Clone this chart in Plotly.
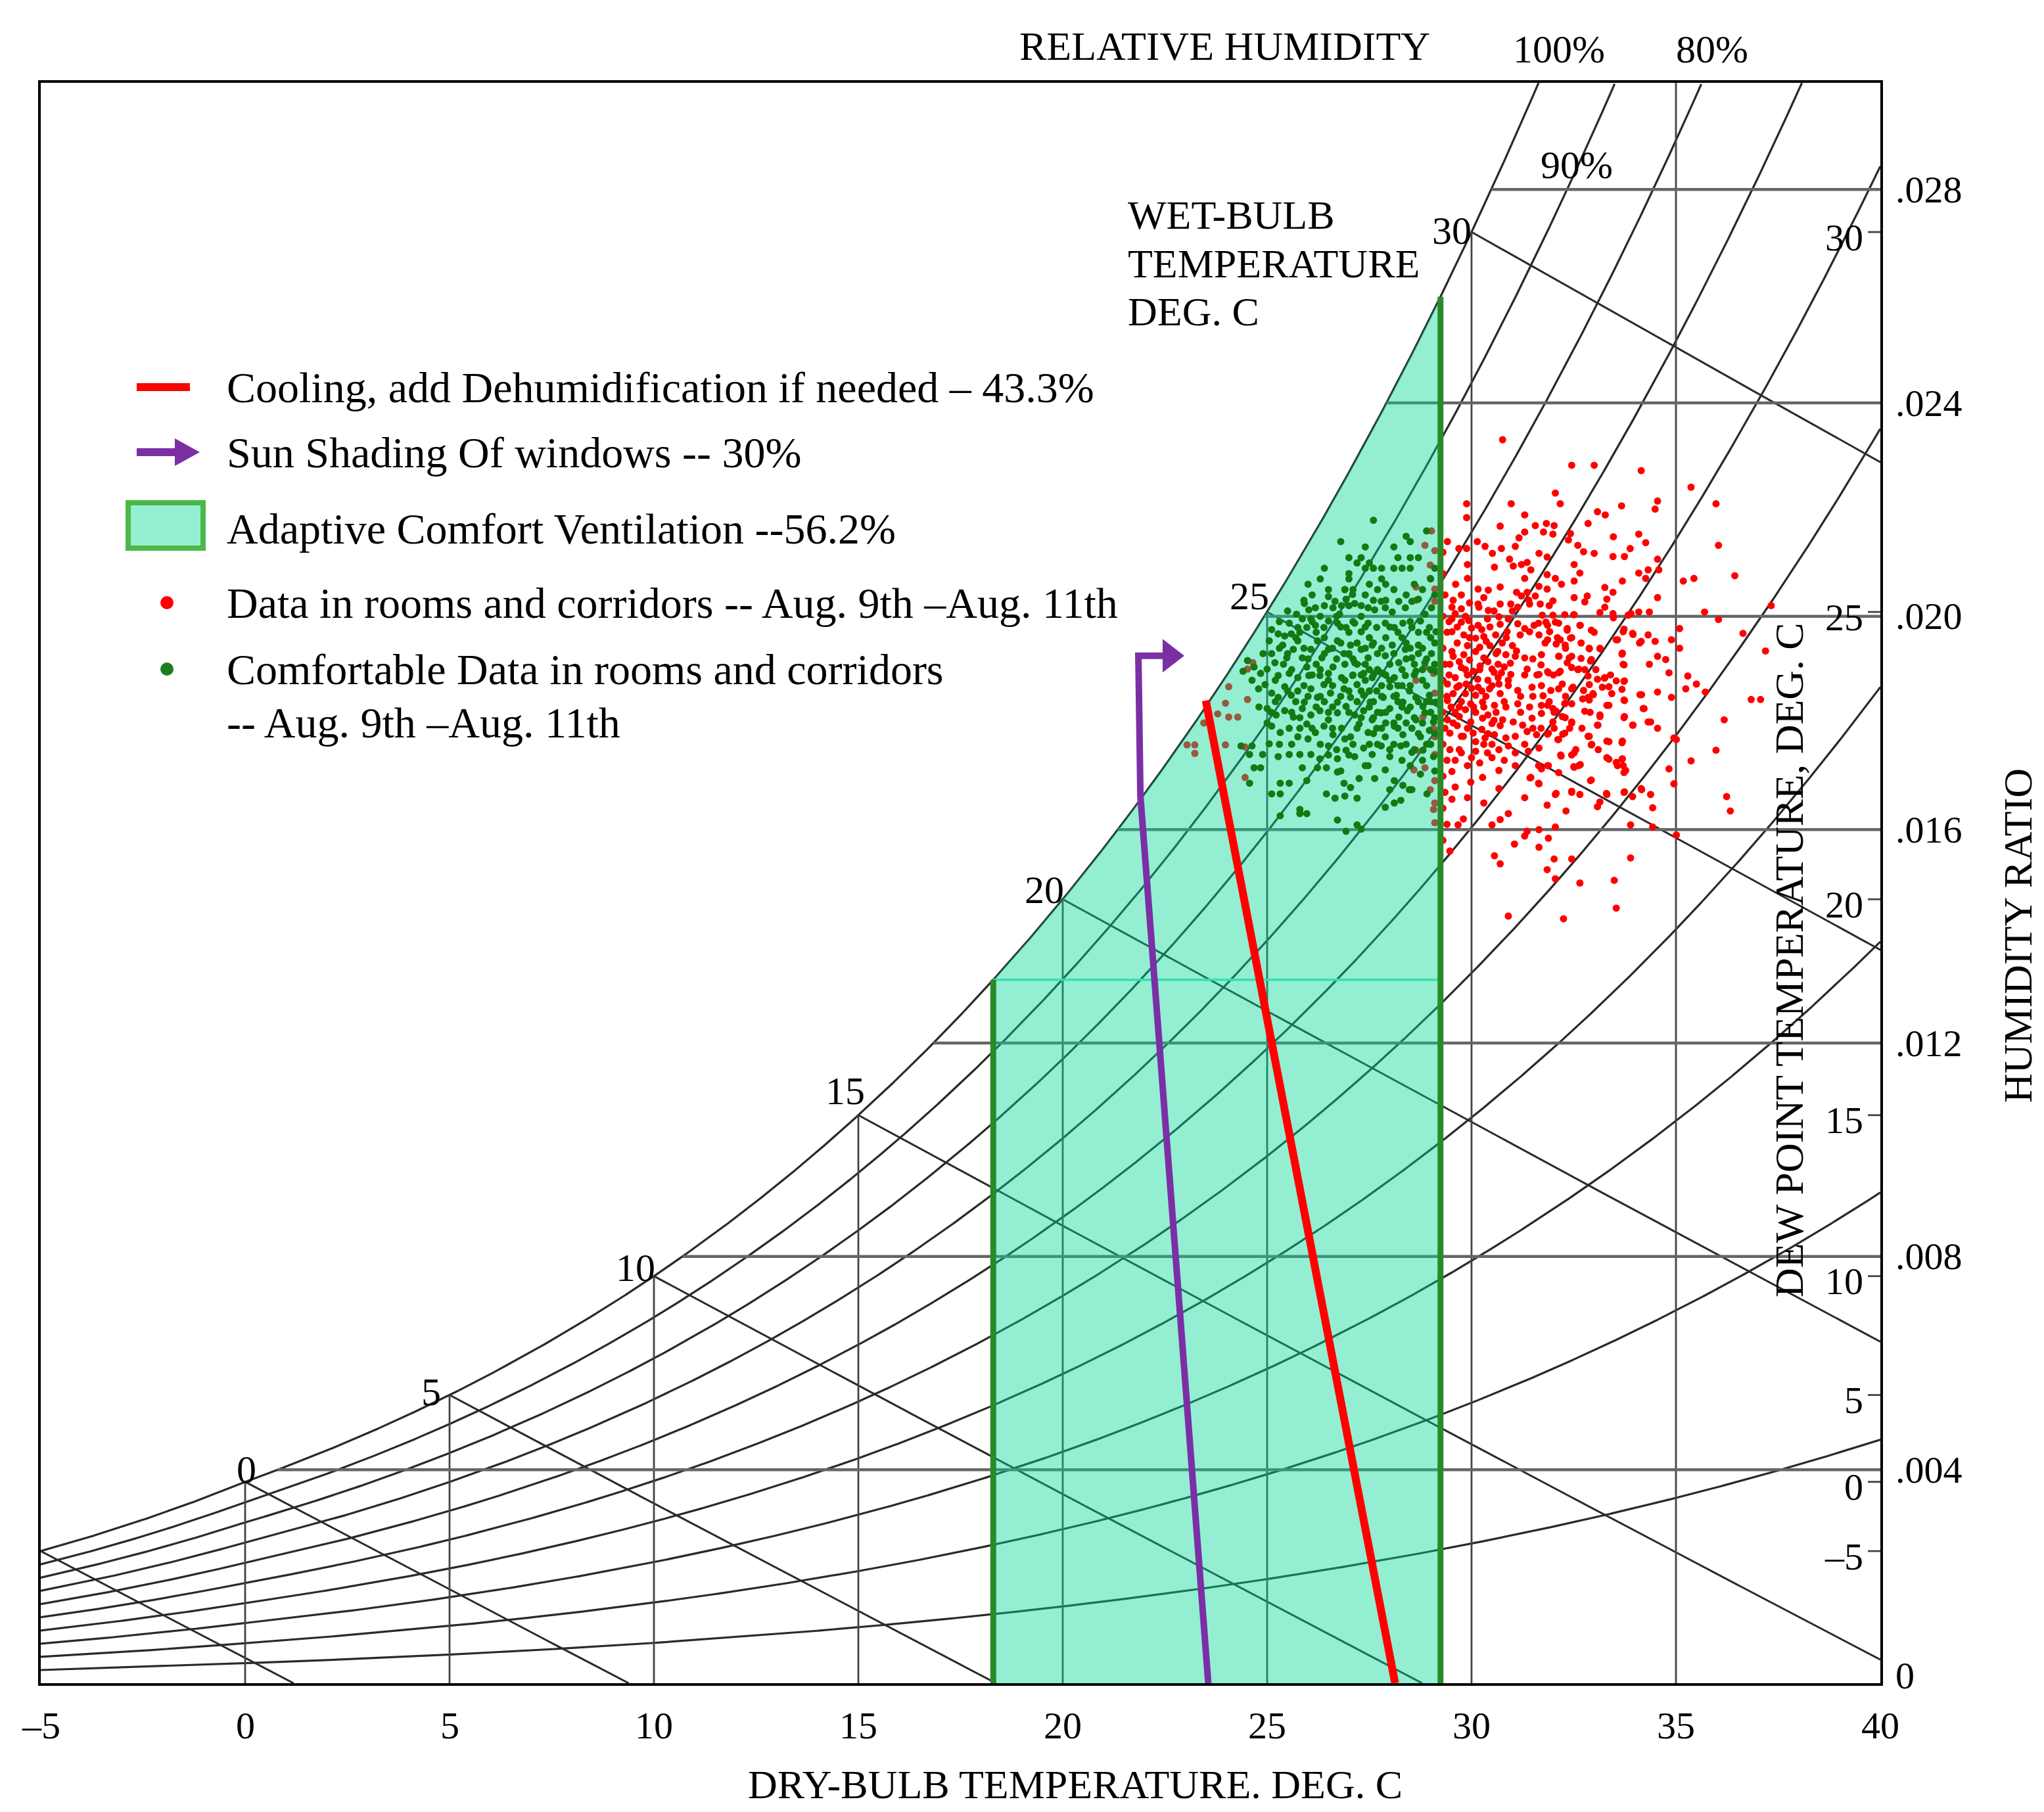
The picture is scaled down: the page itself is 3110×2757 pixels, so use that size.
import numpy as np
import plotly.graph_objects as go

# ---------------- chart data ----------------
rh_levels = [10, 20, 30, 40, 50, 60, 70, 80, 90, 100]          # % relative humidity curves
wetbulb_levels = [-5, 0, 5, 10, 15, 20, 25, 30]                # deg C
wetbulb_labels = [0, 5, 10, 15, 20, 25, 30]
drybulb_lines = [0, 5, 10, 15, 20, 25, 30, 35]                 # deg C
hr_lines = [4, 8, 12, 16, 20, 24, 28]                          # g/kg
dewpoint_ticks = [-5, 0, 5, 10, 15, 20, 25, 30]                # deg C
x_ticks = [-5, 0, 5, 10, 15, 20, 25, 30, 35, 40]
x_ticktext = ["\u20135", "0", "5", "10", "15", "20", "25", "30", "35", "40"]
hr_ticks = [0, 4, 8, 12, 16, 20, 24, 28]                       # g/kg
hr_ticktext = ["0", ".004", ".008", ".012", ".016", ".020", ".024", ".028"]

comfort_t = [18.3, 29.24]            # adaptive comfort ventilation, dry-bulb limits
cooling_t = [28.13, 23.5]            # cooling line, dry-bulb
cooling_w = [0.0, 18.42]             # g/kg
shading_t = [23.56, 21.9, 21.85, 22.62]
shading_w = [0.0, 16.63, 19.26, 19.26]

# measured points (dry-bulb C, humidity ratio g/kg)
red_pts = [
    (30.76, 23.31), (32.45, 22.83), (33.0, 22.83), (34.15, 22.73), (35.37, 22.42), (32.05, 22.31),
    (32.17, 22.11), (30.97, 22.11), (29.88, 22.11), (29.88, 21.85), (31.3, 21.9), (30.7, 21.69),
    (33.08, 21.96), (33.27, 21.9), (33.67, 22.07), (34.55, 22.16), (34.49, 22.01), (35.98, 22.11),
    (32.85, 21.74), (31.56, 21.7), (31.83, 21.74), (32.02, 21.7), (31.76, 21.58), (31.99, 21.54),
    (31.3, 21.58), (31.16, 21.47), (32.42, 21.55), (32.37, 21.43), (33.47, 21.49), (34.09, 21.54),
    (34.26, 21.38), (36.04, 21.33), (29.41, 21.4), (29.69, 21.27), (29.88, 21.27), (30.14, 21.4),
    (30.33, 21.31), (30.51, 21.18), (30.73, 21.27), (31.07, 21.31), (32.6, 21.33), (32.74, 21.21),
    (33.0, 21.18), (33.46, 21.12), (33.74, 21.12), (33.88, 21.27), (34.55, 21.07), (29.9, 20.97),
    (30.56, 20.92), (30.93, 21.07), (31.02, 20.94), (31.22, 20.97), (31.36, 21.01), (31.65, 21.18),
    (31.85, 21.11), (31.45, 20.87), (32.51, 20.97), (32.65, 20.81), (31.85, 20.78), (32.05, 20.71),
    (29.61, 20.6), (29.9, 20.71), (31.3, 20.71), (32.51, 20.66), (34.09, 20.81), (34.32, 20.87),
    (34.26, 20.71), (34.58, 20.87), (35.18, 20.66), (35.44, 20.71), (36.44, 20.76), (33.69, 20.66),
    (30.16, 20.51), (30.41, 20.49), (30.7, 20.55), (31.1, 20.45), (31.22, 20.38), (31.36, 20.45),
    (31.56, 20.38), (31.65, 20.56), (31.85, 20.51), (31.99, 20.29), (32.51, 20.35), (32.83, 20.38),
    (32.77, 20.27), (33.26, 20.54), (33.46, 20.45), (33.31, 20.32), (33.26, 20.17), (34.55, 20.35),
    (29.52, 20.17), (29.75, 20.14), (30.16, 20.23), (30.18, 20.17), (30.41, 20.11), (30.7, 20.23),
    (30.96, 20.23), (31.13, 20.17), (31.42, 20.23), (31.68, 20.23), (31.73, 20.02), (31.99, 20.02),
    (32.28, 20.03), (32.51, 20.03), (33.14, 20.07), (33.46, 20.05), (33.83, 20.02), (34.09, 20.08),
    (34.35, 20.08), (35.7, 20.08), (36.04, 19.94), (37.33, 20.2), (29.52, 19.95), (29.75, 19.89),
    (29.93, 19.92), (30.16, 19.83), (30.39, 19.95), (30.67, 19.99), (30.9, 19.95), (31.13, 19.86),
    (31.3, 19.77), (31.53, 19.83), (31.82, 19.89), (32.05, 19.89), (32.34, 19.77), (32.65, 19.83),
    (35.09, 19.77), (35.09, 19.4), (34.89, 19.56), (36.64, 19.68), (37.19, 19.35), (29.52, 19.71),
    (29.81, 19.65), (30.1, 19.59), (30.36, 19.53), (30.59, 19.65), (30.87, 19.71), (31.19, 19.65),
    (31.42, 19.71), (31.65, 19.65), (31.91, 19.71), (32.17, 19.56), (32.42, 19.59), (32.68, 19.5),
    (32.88, 19.4), (33.14, 19.4), (33.54, 19.56), (33.71, 19.71), (33.94, 19.68), (34.15, 19.53),
    (34.32, 19.65), (34.49, 19.53), (29.52, 19.34), (29.81, 19.28), (30.1, 19.34), (30.3, 19.22),
    (30.64, 19.34), (30.84, 19.28), (31.07, 19.25), (31.3, 19.22), (31.71, 19.28), (32.14, 19.25),
    (32.39, 19.22), (32.68, 19.21), (32.91, 19.16), (33.69, 19.31), (33.71, 19.1), (34.35, 19.1),
    (34.55, 19.25), (34.75, 19.19), (34.83, 18.94), (29.47, 19.1), (29.75, 19.04), (30.04, 18.97),
    (30.21, 19.07), (30.5, 19.01), (30.73, 18.94), (30.96, 18.91), (31.36, 19.01), (31.65, 18.91),
    (31.88, 18.94), (32.17, 18.97), (32.45, 19.04), (32.62, 19.01), (32.85, 18.88), (33.08, 18.82),
    (33.26, 18.85), (33.54, 18.79), (33.74, 18.79), (35.29, 18.88), (35.24, 18.64), (35.5, 18.73),
    (35.72, 18.58), (29.41, 18.73), (29.64, 18.67), (29.87, 18.73), (30.16, 18.67), (30.44, 18.64),
    (30.67, 18.73), (30.9, 18.7), (31.13, 18.61), (31.48, 18.67), (31.71, 18.7), (31.94, 18.61),
    (32.22, 18.73), (32.48, 18.67), (32.74, 18.61), (32.97, 18.55), (33.2, 18.67), (33.43, 18.55),
    (33.74, 18.42), (34.12, 18.53), (34.55, 18.58), (34.89, 18.48), (36.84, 18.44), (37.07, 18.44),
    (29.41, 18.42), (29.7, 18.3), (29.98, 18.36), (30.27, 18.39), (30.56, 18.33), (30.84, 18.3),
    (31.13, 18.36), (31.42, 18.3), (31.71, 18.33), (31.99, 18.27), (32.28, 18.36), (32.45, 18.36),
    (32.85, 18.48), (33.31, 18.33), (29.41, 18.06), (29.7, 18.12), (29.98, 18.02), (30.27, 18.09),
    (30.5, 17.99), (30.76, 18.06), (31.02, 18.02), (31.25, 17.96), (31.48, 18.09), (31.71, 18.18),
    (31.99, 18.02), (32.22, 18.12), (32.45, 18.02), (33.14, 18.15), (33.08, 17.96), (33.74, 18.12),
    (33.94, 17.96), (34.2, 18.27), (34.38, 18.02), (34.55, 17.9), (36.18, 18.06), (29.47, 17.81),
    (29.75, 17.75), (30.04, 17.81), (30.33, 17.72), (30.56, 17.78), (30.84, 17.72), (31.07, 17.75),
    (31.36, 17.84), (31.59, 17.78), (31.88, 17.81), (32.11, 17.69), (32.28, 17.81), (32.85, 17.75),
    (32.94, 17.6), (33.31, 17.66), (33.69, 17.66), (34.95, 17.72), (35.01, 17.69), (29.47, 17.5),
    (29.75, 17.44), (30.1, 17.47), (30.39, 17.44), (30.67, 17.5), (30.9, 17.57), (31.07, 17.44),
    (31.39, 17.47), (31.65, 17.53), (32.19, 17.38), (32.51, 17.44), (32.62, 17.2), (32.51, 17.17),
    (33.31, 17.35), (33.54, 17.26), (33.71, 17.2), (33.69, 17.33), (33.77, 17.11), (35.98, 17.49),
    (35.37, 17.29), (29.52, 17.09), (29.98, 16.89), (30.27, 16.98), (30.67, 17.11), (31.07, 17.2),
    (31.45, 16.98), (31.71, 17.14), (31.88, 17.2), (31.65, 16.86), (32.91, 16.92), (34.83, 17.14),
    (34.95, 16.86), (29.52, 16.57), (30.67, 16.77), (31.85, 16.46), (32.05, 16.66), (32.31, 16.35),
    (32.45, 16.72), (32.65, 16.66), (33.08, 16.43), (33.31, 16.66), (33.74, 16.71), (33.94, 16.62),
    (34.15, 16.77), (34.38, 16.66), (34.43, 16.41), (33.14, 16.52), (36.24, 16.62), (36.33, 16.35),
    (29.67, 16.09), (30.5, 16.09), (30.7, 16.19), (31.36, 15.97), (31.65, 16.0), (31.88, 15.84),
    (31.3, 15.88), (32.05, 16.05), (33.89, 16.09), (34.43, 16.05), (35.01, 15.9), (29.47, 15.6),
    (30.56, 15.51), (30.7, 15.36), (31.05, 15.73), (31.65, 15.67), (32.02, 15.45), (32.45, 15.45),
    (31.85, 15.25), (32.05, 15.08), (32.65, 15.0), (33.49, 15.05), (33.89, 15.47), (33.54, 14.53),
    (30.9, 14.38), (32.25, 14.33),
    (29.3, 21.2), (29.3, 20.8), (29.35, 20.4), (29.3, 20.0), (29.4, 19.7), (29.3, 19.4), (29.35, 19.1),
    (29.3, 18.8), (29.4, 18.5), (29.3, 18.2), (29.35, 17.9), (29.3, 17.6), (29.4, 17.3), (29.3, 17.0),
    (29.35, 16.7), (29.3, 16.4), (29.4, 16.1), (29.3, 15.8), (29.45, 19.9), (29.45, 18.9), (29.5, 18.3),
    (29.6, 20.05), (29.85, 20.0), (30.0, 19.78), (30.25, 19.75), (30.45, 19.8), (30.7, 19.85),
    (29.65, 19.5), (29.9, 19.45), (30.2, 19.42), (30.45, 19.45), (30.75, 19.5), (31.0, 19.45),
    (29.7, 19.15), (29.95, 19.18), (30.4, 19.15), (30.65, 19.1), (30.95, 19.12), (29.6, 18.85),
    (29.9, 18.9), (30.15, 18.82), (30.4, 18.8), (30.65, 18.85), (30.9, 18.8), (29.55, 18.55),
    (29.85, 18.55), (30.1, 18.52), (30.35, 18.5), (30.7, 18.55), (29.6, 18.2), (29.85, 18.25),
    (30.1, 18.2), (30.4, 18.15), (30.6, 18.2), (29.65, 17.95), (29.9, 17.9), (30.25, 17.88),
    (30.5, 17.6), (29.6, 17.3), (29.9, 17.2), (30.2, 17.25), (30.5, 17.35), (30.8, 17.3), (31.2, 18.2),
    (31.5, 18.5), (31.8, 19.5), (32.3, 19.4), (31.0, 20.1), (32.0, 18.9), (32.9, 18.2), (32.4, 17.9),
    (29.55, 20.3), (29.75, 20.4), (29.95, 20.25), (30.3, 20.35), (30.55, 20.1), (29.65, 19.8),
    (29.95, 19.6), (30.3, 19.62), (30.6, 19.3), (30.85, 19.6), (29.55, 19.25), (29.85, 19.0),
    (30.2, 19.0), (30.55, 18.95), (30.8, 19.05), (29.7, 18.7), (30.0, 18.65), (30.25, 18.6),
    (30.5, 18.7), (30.8, 18.4), (29.75, 18.4), (30.05, 18.3), (30.3, 18.3), (30.55, 18.05),
    (29.55, 18.0), (29.8, 17.75), (30.1, 17.65), (30.4, 17.8), (30.7, 17.95), (29.7, 17.5),
    (30.0, 17.35), (30.3, 17.6), (29.6, 16.8), (29.9, 16.6), (30.3, 16.5), (29.8, 16.2), (31.1, 19.35),
    (31.3, 18.9), (31.5, 19.2), (31.2, 18.5), (31.5, 17.9), (31.3, 17.6), (31.6, 18.9), (31.9, 18.4),
    (32.1, 19.6), (32.3, 18.5), (31.4, 20.3), (31.9, 20.2), (32.2, 20.6), (32.6, 19.0), (33.0, 19.7),
    (33.4, 18.9), (32.7, 17.9), (33.1, 17.5), (31.3, 16.6), (30.9, 16.3),
    (32.5, 20.03), (33.47, 19.97), (33.9, 20.05), (32.66, 19.83), (32.93, 19.74), (33.73, 19.76),
    (33.95, 19.66), (32.45, 19.6), (32.88, 19.39), (33.14, 19.39), (33.57, 19.56), (34.11, 19.5),
    (32.45, 19.25), (32.93, 19.19), (33.68, 19.29), (33.73, 19.09), (32.77, 19.0), (33.04, 19.0),
    (33.25, 18.84), (33.73, 18.78), (32.88, 18.72), (32.98, 18.53), (33.36, 18.68), (33.68, 18.63),
    (34.16, 18.53), (32.72, 18.45), (32.88, 18.43), (33.36, 18.33), (33.73, 18.43), (34.22, 18.27),
    (32.77, 18.22), (33.14, 18.12), (33.73, 18.1), (34.32, 18.02), (32.88, 17.75), (32.93, 17.59),
    (33.09, 17.96), (33.36, 17.65), (33.68, 17.63), (33.95, 17.96), (33.36, 17.32), (33.68, 17.32),
    (33.57, 17.2), (33.73, 17.07), (32.93, 16.93), (33.3, 16.68), (33.73, 16.7), (34.16, 16.75),
    (32.18, 17.4), (32.45, 17.4), (32.55, 17.5), (32.13, 17.07), (32.5, 17.18), (32.66, 17.22),
    (32.07, 16.68), (32.45, 16.7), (31.64, 16.87), (31.43, 16.97), (31.64, 17.2), (31.86, 17.2),
    (31.86, 17.79), (32.13, 17.69), (32.23, 17.79), (31.7, 17.9), (32.02, 17.9), (32.07, 18.22),
    (32.29, 18.1), (32.45, 18.0), (31.86, 18.33), (32.02, 18.2), (32.29, 18.37), (32.13, 18.64),
    (32.45, 18.64), (31.75, 18.51), (31.86, 18.96), (32.13, 18.94), (32.34, 19.13), (32.13, 19.25),
    (31.7, 19.09), (31.86, 19.56), (32.07, 19.48), (32.29, 19.46), (31.64, 19.87), (31.86, 19.83),
    (32.13, 19.87), (32.34, 19.74),
    # inside the comfort zone (drawn under the shading)
    (29.02, 21.6), (28.86, 21.33), (29.1, 21.23), (28.99, 20.96), (28.99, 20.71), (28.64, 20.55),
    (29.1, 20.51), (28.64, 20.3), (29.1, 20.28), (28.86, 19.05), (29.07, 18.93), (28.64, 18.8),
    (29.1, 18.56), (28.81, 18.11), (29.07, 17.9), (29.1, 17.74), (28.64, 17.49), (29.1, 17.41),
    (28.59, 17.12), (28.86, 17.16), (29.1, 16.92), (28.99, 16.75), (29.07, 16.38), (29.1, 16.13),
    (29.1, 16.5), (24.65, 19.13), (24.52, 19.01), (24.06, 18.68), (24.52, 18.44), (23.98, 18.37),
    (23.79, 18.17), (24.06, 18.11), (24.28, 18.11), (23.45, 18.0), (23.98, 17.59), (24.46, 17.55),
    (23.04, 17.59), (23.23, 17.59), (23.23, 17.43), (24.46, 16.98),
]

green_pts = [
    (27.6, 21.8), (26.8, 21.4), (27.4, 21.3), (28.9, 21.6), (28.4, 21.5), (28.5, 21.4), (28.1, 21.3),
    (27.0, 21.1), (27.2, 21.0), (27.3, 21.1), (27.5, 21.0), (27.4, 20.9), (28.2, 21.1), (28.5, 21.1),
    (28.7, 21.1), (26.4, 20.9), (26.3, 20.7), (27.0, 20.8), (27.0, 20.7), (26.9, 20.5), (27.1, 20.5),
    (27.6, 20.9), (27.8, 20.9), (28.1, 20.9), (28.3, 20.9), (28.5, 20.9), (29.1, 20.9), (26.0, 20.6),
    (26.5, 20.5), (26.1, 20.4), (27.5, 20.6), (27.7, 20.5), (27.9, 20.6), (27.8, 20.7), (29.0, 20.7),
    (25.91, 20.24), (26.02, 20.12), (25.72, 20.04), (25.86, 19.95), (26.07, 19.95), (26.18, 20.16),
    (26.5, 20.37), (26.66, 20.28), (26.82, 20.2), (26.77, 20.04), (26.61, 20.16), (26.93, 20.32),
    (27.09, 20.41), (27.14, 20.24), (27.3, 20.2), (27.47, 20.16), (27.63, 20.12), (27.79, 20.28),
    (27.89, 20.16), (28.06, 20.08), (28.22, 20.28), (28.38, 20.16), (28.54, 20.28), (28.7, 20.32),
    (28.86, 20.04), (29.02, 20.16), (25.54, 19.87), (25.75, 19.79), (25.97, 19.79), (26.18, 19.83),
    (26.39, 19.79), (26.5, 19.91), (26.72, 19.87), (26.93, 19.79), (27.14, 19.87), (27.3, 19.71),
    (27.47, 19.87), (27.68, 19.79), (27.89, 19.87), (28.11, 19.79), (28.32, 19.87), (28.54, 19.79),
    (28.75, 19.91), (28.97, 19.79), (29.13, 19.71), (25.11, 19.75), (25.27, 19.67), (25.43, 19.63),
    (25.59, 19.67), (25.05, 19.54), (25.11, 19.3), (25.0, 19.01), (25.19, 19.13), (25.38, 19.46),
    (25.48, 19.22), (25.64, 19.38), (25.75, 19.54), (25.86, 19.22), (25.97, 19.05), (26.07, 19.38),
    (26.23, 19.54), (26.34, 19.22), (26.5, 19.38), (26.61, 19.05), (26.72, 19.54), (26.88, 19.3),
    (27.04, 19.46), (27.14, 19.13), (27.3, 19.38), (27.47, 19.22), (27.57, 19.46), (27.73, 18.97),
    (27.89, 19.26), (28.06, 19.46), (28.22, 19.13), (28.38, 19.38), (28.54, 19.22), (28.7, 19.46),
    (28.86, 19.13), (29.02, 19.3), (29.13, 18.97), (24.52, 19.17), (24.68, 19.05), (24.84, 18.93),
    (24.41, 18.97), (25.27, 18.89), (25.54, 18.93), (25.75, 18.85), (26.02, 18.89), (26.29, 18.89),
    (26.5, 18.93), (26.82, 18.85), (27.09, 18.89), (27.36, 18.93), (27.57, 18.85), (27.84, 18.93),
    (28.11, 18.85), (28.38, 18.89), (28.64, 18.97), (24.63, 18.8), (24.79, 18.64), (24.95, 18.72),
    (25.11, 18.56), (25.27, 18.48), (25.43, 18.68), (25.59, 18.52), (25.75, 18.6), (25.91, 18.39),
    (26.07, 18.64), (26.23, 18.48), (26.39, 18.72), (26.55, 18.56), (26.72, 18.39), (26.88, 18.64),
    (27.04, 18.48), (27.2, 18.72), (27.36, 18.52), (27.52, 18.39), (27.68, 18.6), (27.84, 18.48),
    (28.0, 18.68), (28.16, 18.52), (28.32, 18.39), (28.48, 18.6), (28.64, 18.48), (28.81, 18.31),
    (28.97, 18.52), (29.13, 18.39), (25.0, 18.27), (25.22, 18.15), (25.43, 18.23), (25.64, 18.11),
    (25.86, 18.27), (26.07, 18.15), (26.29, 18.23), (26.5, 18.06), (26.72, 18.19), (26.93, 18.31),
    (27.14, 18.15), (27.36, 18.23), (27.57, 18.06), (27.79, 18.19), (28.0, 18.27), (28.22, 18.11),
    (28.43, 18.23), (28.64, 18.06), (28.86, 18.19), (29.07, 18.02), (25.11, 17.94), (25.32, 17.82),
    (25.54, 17.9), (25.75, 17.74), (25.97, 17.98), (26.18, 17.82), (26.39, 17.94), (26.61, 17.78),
    (26.82, 17.9), (27.04, 17.74), (27.25, 17.98), (27.47, 17.82), (27.68, 17.9), (27.89, 17.74),
    (28.11, 17.94), (28.32, 17.78), (28.54, 17.9), (28.75, 17.74), (28.97, 17.86), (24.63, 17.57),
    (24.89, 17.41), (25.05, 17.61), (25.27, 17.37), (25.54, 17.41), (25.8, 17.41), (26.07, 17.41),
    (26.29, 17.33), (26.5, 17.57), (26.72, 17.33), (26.93, 17.49), (27.14, 17.37), (27.36, 17.53),
    (27.57, 17.41), (27.79, 17.57), (28.0, 17.37), (28.27, 17.57), (28.54, 17.45), (28.81, 17.49),
    (29.07, 17.37), (24.36, 17.57), (24.57, 17.41), (24.68, 17.16), (24.57, 16.87), (24.84, 17.16),
    (25.32, 16.87), (25.54, 16.87), (25.11, 16.67), (25.32, 16.67), (25.86, 17.16), (25.97, 16.92),
    (26.23, 17.16), (26.45, 17.16), (26.72, 17.08), (26.88, 16.87), (27.04, 16.79), (27.25, 16.96),
    (27.47, 17.2), (27.63, 16.96), (27.89, 17.12), (28.11, 16.92), (28.32, 16.83), (28.54, 16.75),
    (28.75, 17.04), (28.91, 16.67), (25.8, 16.38), (25.97, 16.3), (25.8, 16.3), (26.45, 16.67),
    (26.66, 16.59), (26.9, 16.63), (27.2, 16.59), (27.89, 16.42), (28.11, 16.5), (28.27, 16.55),
    (28.48, 16.75), (28.0, 16.75), (25.32, 16.26), (26.72, 16.18), (26.93, 15.97), (27.2, 16.09),
    (27.3, 16.01),
    (25.4, 19.1), (25.7, 19.6), (25.9, 18.7), (26.1, 19.9), (26.2, 18.3), (26.3, 19.0), (26.4, 19.6),
    (26.5, 18.8), (26.6, 19.4), (26.7, 20.0), (26.8, 18.5), (26.9, 19.1), (27.0, 19.7), (27.0, 18.2),
    (27.1, 18.9), (27.2, 19.5), (27.3, 18.6), (27.3, 20.0), (27.4, 19.1), (27.5, 18.3), (27.5, 19.6),
    (27.6, 18.9), (27.7, 19.3), (27.7, 17.6), (27.8, 18.7), (27.9, 19.6), (27.9, 18.0), (28.0, 19.1),
    (28.0, 17.5), (28.1, 18.5), (28.2, 19.7), (28.2, 17.9), (28.3, 19.0), (28.3, 18.3), (28.4, 19.5),
    (28.4, 17.6), (28.5, 18.7), (28.6, 19.1), (28.6, 18.1), (28.7, 19.7), (28.7, 17.8), (28.8, 18.8),
    (28.8, 19.4), (28.9, 18.4), (28.9, 17.6), (29.0, 19.0), (29.0, 18.2), (29.1, 19.5), (29.1, 17.8),
    (25.6, 18.2), (25.8, 17.9), (26.0, 17.7), (26.3, 17.6), (26.6, 17.9), (26.9, 17.7), (27.2, 17.9),
    (27.5, 17.6), (25.5, 20.1), (25.9, 20.3), (26.4, 20.2), (26.9, 20.5), (27.4, 20.4), (27.9, 20.3),
    (28.4, 20.4), (28.8, 20.5), (29.1, 20.4), (25.2, 18.4), (25.0, 18.0), (24.8, 18.3), (24.9, 19.3),
    (25.3, 19.9), (26.6, 18.3), (27.6, 18.1), (28.5, 19.4), (26.1, 18.9), (25.7, 18.4), (26.0, 19.2),
    (27.9, 18.9), (28.2, 18.7), (28.9, 19.7), (26.8, 19.8), (27.1, 19.2), (27.4, 18.8), (25.5, 18.6),
    (26.3, 18.5), (27.8, 17.9), (28.6, 17.5), (29.0, 17.6), (28.3, 17.3), (27.0, 17.4), (26.7, 17.5),
    (25.3, 19.4), (25.5, 19.3), (25.6, 19.0), (25.8, 19.7), (25.9, 19.4), (26.0, 18.5), (26.2, 19.1),
    (26.2, 19.7), (26.4, 18.4), (26.4, 19.3), (26.5, 18.2), (26.6, 18.7), (26.7, 19.2), (26.8, 19.5),
    (26.9, 18.8), (27.0, 19.3), (27.0, 18.6), (27.1, 19.9), (27.2, 18.4), (27.2, 19.1), (27.3, 18.1),
    (27.3, 18.9), (27.4, 19.4), (27.4, 19.8), (27.5, 18.6), (27.5, 19.0), (27.6, 19.5), (27.6, 18.4),
    (27.7, 18.2), (27.7, 19.0), (27.8, 19.4), (27.8, 18.5), (27.9, 18.2), (28.0, 18.8), (28.0, 19.8),
    (28.1, 18.0), (28.1, 19.3), (28.2, 18.4), (28.3, 19.6), (28.3, 18.7), (28.4, 18.0), (28.4, 19.2),
    (28.5, 18.3), (28.5, 19.9), (28.6, 18.9), (28.7, 18.4), (28.7, 19.3), (28.8, 18.0), (28.8, 19.0),
    (28.9, 19.2), (28.9, 18.7), (29.0, 18.4), (29.0, 19.6), (29.1, 18.1), (29.1, 19.1), (27.0, 20.2),
    (27.6, 20.3), (28.1, 20.5), (28.6, 20.6), (26.3, 20.0), (25.8, 18.1), (26.1, 17.9), (26.5, 17.4),
    (27.1, 17.6), (27.6, 17.8), (28.1, 17.6), (28.5, 17.2), (28.8, 17.3), (29.1, 17.1), (27.4, 17.2),
    (26.8, 17.1), (25.6, 17.6), (25.3, 17.6), (25.2, 18.8), (25.1, 18.2),
]

# ---------------- psychrometrics (sea level) ----------------
P_ATM = 101325.0


def pws(t):
    T = np.asarray(t, float) + 273.15
    ice = np.exp(-5.6745359e3 / T + 6.3925247 - 9.677843e-3 * T + 6.2215701e-7 * T**2
                 + 2.0747825e-9 * T**3 - 9.484024e-13 * T**4 + 4.1635019 * np.log(T))
    wat = np.exp(-5.8002206e3 / T + 1.3914993 - 4.8640239e-2 * T + 4.1764768e-5 * T**2
                 - 1.4452093e-8 * T**3 + 6.5459673 * np.log(T))
    return np.where(T < 273.15, ice, wat)


def w_rh(t, rh):
    pw = rh / 100.0 * pws(t)
    return 0.621945 * pw / (P_ATM - pw)


W_MAX = 0.030
T_MIN, T_MAX = -5.0, 40.0
tt = np.arange(T_MIN, T_MAX + 1e-9, 0.02)
wsat_curve = w_rh(tt, 100)


def t_sat(w):
    return float(np.interp(w, wsat_curve, tt))


def join(segs):
    xs, ys = [], []
    for x, y in segs:
        xs += list(x) + [None]
        ys += list(y) + [None]
    return xs, ys


# geometry in output pixels
WIDTH, HEIGHT = 3110, 2757
PL, PR, PT, PB = 54, 2853, 118, 2553
SERIF = "Liberation Serif"


def paper(px, py):
    return (px - PL) / (PR - PL), (PB - py) / (PB - PT)


fig = go.Figure()

# relative humidity curves
segs = []
for rh in rh_levels:
    w = w_rh(tt, rh)
    m = w <= W_MAX
    segs.append((tt[m], w[m]))
x, y = join(segs)
fig.add_trace(go.Scatter(x=x, y=y, mode="lines", line=dict(color="#2a2a2a", width=3.2), hoverinfo="skip"))

# wet-bulb lines
segs = []
for twb in wetbulb_levels:
    ws = float(w_rh(twb, 100))
    t = np.arange(twb, T_MAX + 1e-9, 0.05)
    w = ((2501 - 2.326 * twb) * ws - 1.006 * (t - twb)) / (2501 + 1.86 * t - 4.186 * twb)
    m = (w >= 0) & (t >= T_MIN)
    t, w = t[m], w[m]
    t_end = twb + (2501 - 2.326 * twb) * ws / 1.006
    if t_end <= T_MAX:
        t = np.append(t, t_end)
        w = np.append(w, 0.0)
    segs.append((t, w))
x, y = join(segs)
fig.add_trace(go.Scatter(x=x, y=y, mode="lines", line=dict(color="#2a2a2a", width=3), hoverinfo="skip"))

# dry-bulb verticals
segs = [([t, t], [0, min(float(w_rh(t, 100)), W_MAX)]) for t in drybulb_lines]
x, y = join(segs)
fig.add_trace(go.Scatter(x=x, y=y, mode="lines", line=dict(color="#444444", width=2.8), hoverinfo="skip"))

# humidity ratio horizontals
segs = [([t_sat(h / 1000), T_MAX], [h / 1000, h / 1000]) for h in hr_lines]
x, y = join(segs)
fig.add_trace(go.Scatter(x=x, y=y, mode="lines", line=dict(color="#666666", width=4.5), hoverinfo="skip"))

# dew point ticks on the right edge
tick_len = 19 / ((PR - PL) / (T_MAX - T_MIN))
segs = [([T_MAX - tick_len, T_MAX], [float(w_rh(td, 100))] * 2) for td in dewpoint_ticks]
x, y = join(segs)
fig.add_trace(go.Scatter(x=x, y=y, mode="lines", line=dict(color="#444444", width=2.8), hoverinfo="skip"))

# all measured data
fig.add_trace(go.Scatter(x=[p[0] for p in red_pts], y=[p[1] / 1000 for p in red_pts], mode="markers",
                         marker=dict(color="#ff0000", size=11, line=dict(width=0)), hoverinfo="skip"))

# adaptive comfort ventilation zone
zt = tt[(tt >= comfort_t[0]) & (tt <= comfort_t[1])]
zx = [comfort_t[0]] + list(zt) + [comfort_t[1], comfort_t[1], comfort_t[0]]
zy = [0.0] + list(w_rh(zt, 100)) + [float(w_rh(comfort_t[1], 100)), 0.0, 0.0]
fig.add_trace(go.Scatter(x=zx, y=zy, mode="lines", fill="toself", fillcolor="rgba(0,216,148,0.42)",
                         line=dict(width=0), hoverinfo="skip"))
w_left = float(w_rh(comfort_t[0], 100))
fig.add_trace(go.Scatter(x=comfort_t, y=[w_left, w_left], mode="lines",
                         line=dict(color="#33e0b0", width=3.5), hoverinfo="skip"))

# comfortable data
fig.add_trace(go.Scatter(x=[p[0] for p in green_pts], y=[p[1] / 1000 for p in green_pts], mode="markers",
                         marker=dict(color="#127a12", size=11, line=dict(width=0)), hoverinfo="skip"))

# zone limits
segs = [([t, t], [0, float(w_rh(t, 100))]) for t in comfort_t]
x, y = join(segs)
fig.add_trace(go.Scatter(x=x, y=y, mode="lines", line=dict(color="#2a8a2a", width=9), hoverinfo="skip"))

# cooling line
fig.add_trace(go.Scatter(x=cooling_t, y=[w / 1000 for w in cooling_w], mode="lines",
                         line=dict(color="#ff0000", width=12), hoverinfo="skip"))

# sun shading arrow
fig.add_trace(go.Scatter(x=shading_t, y=[w / 1000 for w in shading_w], mode="lines",
                         line=dict(color="#7b2fa5", width=10), hoverinfo="skip"))
fig.add_trace(go.Scatter(x=[shading_t[-1]], y=[shading_w[-1] / 1000], mode="markers",
                         marker=dict(symbol="triangle-right", size=44, color="#7b2fa5", line=dict(width=0)),
                         hoverinfo="skip"))


def note(text, x, y, size=62, xref="paper", yref="paper", xanchor="center", yanchor="middle", **kw):
    fig.add_annotation(text=text, x=x, y=y, xref=xref, yref=yref, showarrow=False,
                       xanchor=xanchor, yanchor=yanchor,
                       font=dict(family=SERIF, size=size, color="black"), **kw)


# axis tick labels
_, y_lab = paper(0, 2618)
for t, txt in zip(x_ticks, x_ticktext):
    note(txt, t, y_lab, size=58, xref="x")
x_lab, _ = paper(2874, 0)
for h, txt in zip(hr_ticks, hr_ticktext):
    note(txt, x_lab, h / 1000, size=58, yref="y", xanchor="left", yshift=12 if h == 0 else 0)

# wet-bulb labels on the saturation curve
wb_shift = {0: (2, 19), 5: (-28, 5), 10: (-28, 13), 15: (-20, 37), 20: (-28, 14), 25: (-27, 24), 30: (-30, 2)}
for twb in wetbulb_labels:
    dx, dy = wb_shift[twb]
    note(str(twb), twb, float(w_rh(twb, 100)), size=60, xref="x", yref="y", xshift=dx, yshift=dy)

# dew point labels
for td in dewpoint_ticks:
    note(str(td).replace("-", "\u2013"), 1.0, float(w_rh(td, 100)), size=58, yref="y",
         xanchor="right", xshift=-24, yshift=-8)

# headings
x0, y0 = paper(1855, 62)
note("RELATIVE HUMIDITY", x0, y0, size=62)
x0, y0 = paper(2364, 67)
note("100%", x0, y0, size=60)
x0, y0 = paper(2597, 67)
note("80%", x0, y0, size=60)
x0, y0 = paper(2391, 243)
note("90%", x0, y0, size=60)
for txt, py in [("WET-BULB", 319), ("TEMPERATURE", 393), ("DEG. C", 466)]:
    x0, y0 = paper(1706, py)
    note(txt, x0, y0, size=62, xanchor="left")
x0, y0 = paper(1628, 2707)
note("DRY-BULB TEMPERATURE. DEG. C", x0, y0, size=62)
x0, y0 = paper(3062, 1415)
note("HUMIDITY RATIO", x0, y0, size=62, textangle=-90)
x0, y0 = paper(2714, 1453)
note("DEW POINT TEMPERATURE, DEG. C", x0, y0, size=62, textangle=-90)

# legend (drawn by hand)
legend_rows = [
    ("Cooling, add Dehumidification if needed \u2013 43.3%", 581),
    ("Sun Shading Of windows -- 30%", 680),
    ("Adaptive Comfort Ventilation --56.2%", 797),
    ("Data in rooms and corridors -- Aug. 9th \u2013Aug. 11th", 909),
    ("Comfortable Data in rooms and corridors", 1010),
    ("-- Aug. 9th \u2013Aug. 11th", 1091),
]
for txt, py in legend_rows:
    x0, y0 = paper(335, py)
    note(txt, x0, y0, size=66, xanchor="left")

shapes = []
a, b = paper(200, 581)
c, _ = paper(281, 581)
shapes.append(dict(type="line", xref="paper", yref="paper", x0=a, x1=c, y0=b, y1=b,
                   line=dict(color="#ff0000", width=12)))
a, b = paper(200, 680)
c, _ = paper(262, 680)
shapes.append(dict(type="line", xref="paper", yref="paper", x0=a, x1=c, y0=b, y1=b,
                   line=dict(color="#7b2fa5", width=12)))
p1, p2, p3 = paper(258, 659), paper(296, 680), paper(258, 701)
shapes.append(dict(type="path", xref="paper", yref="paper",
                   path=f"M {p1[0]} {p1[1]} L {p2[0]} {p2[1]} L {p3[0]} {p3[1]} Z",
                   fillcolor="#7b2fa5", line=dict(width=0)))
a, b = paper(187, 826)
c, d = paper(301, 757)
shapes.append(dict(type="rect", xref="paper", yref="paper", x0=a, x1=c, y0=b, y1=d,
                   fillcolor="#95efd2", line=dict(color="#4cb848", width=8)))
for col, py in [("#ff0000", 909), ("#1e7d1e", 1010)]:
    a, b = paper(236, py + 10)
    c, d = paper(256, py - 10)
    shapes.append(dict(type="circle", xref="paper", yref="paper", x0=a, x1=c, y0=b, y1=d,
                       fillcolor=col, line=dict(width=0)))

fig.update_layout(
    width=WIDTH, height=HEIGHT,
    margin=dict(l=PL, r=WIDTH - PR, t=PT, b=HEIGHT - PB, pad=0),
    paper_bgcolor="white", plot_bgcolor="white",
    showlegend=False,
    shapes=shapes,
    font=dict(family=SERIF, color="black"),
    xaxis=dict(range=[T_MIN, T_MAX], showticklabels=False, showgrid=False,
               zeroline=False, showline=True, mirror=True, linecolor="black", linewidth=4, ticks=""),
    yaxis=dict(range=[0, W_MAX], side="right", showticklabels=False,
               showgrid=False, zeroline=False, showline=True, mirror=True, linecolor="black",
               linewidth=4, ticks=""),
)

fig.write_html("out.html")
